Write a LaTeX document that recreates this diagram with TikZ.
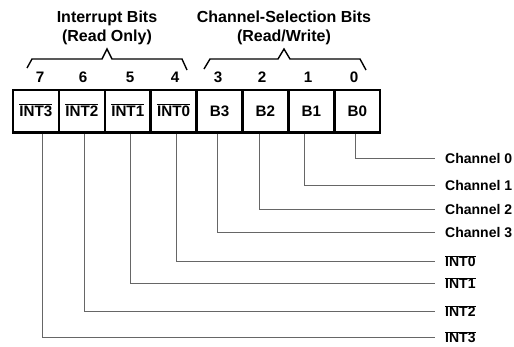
\documentclass[tikz,border=0pt]{standalone}
\usepackage{fontspec}
\setmainfont{Liberation Sans}
\tikzstyle{cell} = [draw=black, line width=2.5bp, minimum width=45.9bp,
    minimum height=42.5bp, inner sep=0pt, text height=10.8bp, text depth=0pt,
    font=\fontsize{15.2bp}{18bp}\selectfont\bfseries]
\tikzstyle{bitnum} = [inner sep=0pt, font=\fontsize{15.2bp}{18bp}\selectfont\bfseries]
\tikzstyle{lab} = [anchor=west, inner xsep=10bp, inner ysep=0pt,
    text height=11.8bp, text depth=0pt]
\tikzstyle{wire} = [draw=black!60, line width=0.8bp]
\tikzstyle{brace} = [draw=black, line width=1.4bp]
\tikzstyle{title} = [align=center, inner sep=0pt, font=\fontsize{16bp}{19bp}\selectfont\bfseries]
\newcommand{\ovl}[1]{$\overline{\mbox{#1}}$}
\begin{document}
\begin{tikzpicture}[x=1bp, y=-1bp, font=\fontsize{14bp}{18bp}\selectfont\bfseries]
\useasboundingbox (0,0) rectangle (514,346);
% titles and brackets
\node[title] (tint) at (107,28) {Interrupt Bits\\(Read Only)};
\node[title] (tsel) at (284,28) {Channel-Selection Bits\\(Read/Write)};
\draw[brace] (27,68) -- (32,59) -- (102,59) -- (107,49) -- (112,59) -- (182,59) -- (187,70);
\draw[brace] (204,69) -- (210,59) -- (278,59) -- (284,49) -- (290,59) -- (360,59) -- (366,70);
% register cells
\foreach \b/\t [count=\i from 0] in {7/\ovl{INT3},6/\ovl{INT2},5/\ovl{INT1},4/\ovl{INT0},3/B3,2/B2,1/B1,0/B0}
    \node[cell] (c\b) at ({13+45.9*(\i+0.5)},111) {\t};
\foreach \b/\x in {7/40,6/83,5/130,4/175,3/218,2/262,1/308,0/354}
    \node[bitnum] (n\b) at (\x,77.5) {\b};
% outputs
\foreach \b/\x/\y/\t in {0/355/158/Channel 0, 1/304/185/Channel 1, 2/259/209/Channel 2,
    3/217/232/Channel 3, 4/176/261/\ovl{INT0}, 5/130/283/\ovl{INT1},
    6/84/311/\ovl{INT2}, 7/42/337/\ovl{INT3}}{
    \node[lab] (l\b) at (435,\y) {\t};
    \draw[wire] (c\b.south -| \x,0) |- (l\b.west);
}
\end{tikzpicture}
\end{document}
